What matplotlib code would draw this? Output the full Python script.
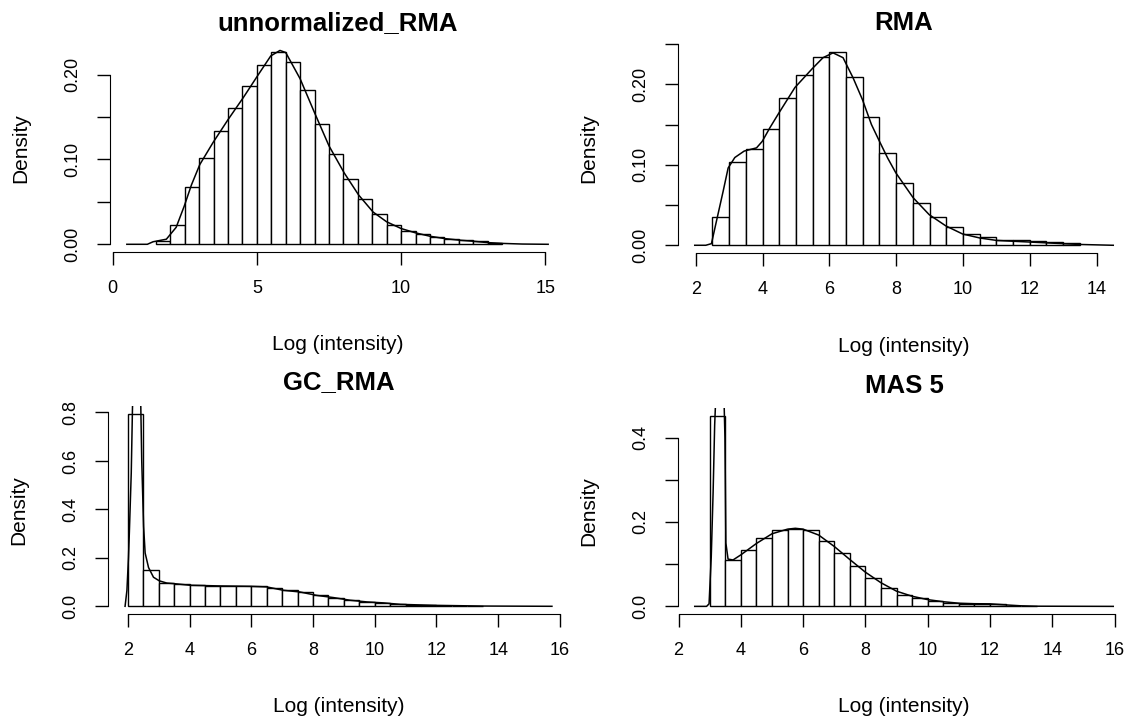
import matplotlib.pyplot as plt
import numpy as np

plt.rcParams['font.family'] = ['Liberation Sans', 'DejaVu Sans']

W, H = 1128, 722

titles = ['unnormalized_RMA', 'RMA', 'GC_RMA', 'MAS 5']
bin_width = 0.5

# unnormalized_RMA : histogram densities (bins of 0.5 from 1.5) + density curve
unnorm_start = 1.5
unnorm_bars = [0.0036, 0.023, 0.067, 0.102, 0.133, 0.161, 0.186, 0.211, 0.227, 0.215,
               0.182, 0.142, 0.107, 0.077, 0.053, 0.036, 0.0226, 0.016, 0.0127, 0.0087,
               0.006, 0.0048, 0.0036, 0.0016]
unnorm_dx = [0.49, 1.2, 1.4, 1.86, 2.2, 2.48, 2.73, 3.02, 3.48, 4.0, 4.53, 5.03, 5.48, 5.8,
             6.0, 6.5, 7.0, 7.5, 8.03, 8.53, 9.03, 9.5, 10.0, 10.5, 11.0, 11.52, 12.04,
             12.5, 13.0, 13.55, 14.2, 15.1]
unnorm_dy = [0, 0, 0.003, 0.006, 0.02, 0.045, 0.07, 0.094, 0.12, 0.147, 0.173, 0.199, 0.222,
             0.2285, 0.226, 0.195, 0.155, 0.116, 0.084, 0.058, 0.038, 0.0265, 0.0186,
             0.0135, 0.0095, 0.0067, 0.0048, 0.0036, 0.002, 0.001, 0.0003, 0]

# RMA
rma_start = 2.5
rma_bars = [0.0352, 0.1037, 0.119, 0.144, 0.1825, 0.2115, 0.2335, 0.240, 0.2086, 0.1597,
            0.114, 0.0776, 0.053, 0.0352, 0.0228, 0.0145, 0.0104, 0.0071, 0.0062, 0.0055,
            0.0045, 0.0025]
rma_dx = [1.97, 2.3, 2.47, 2.62, 2.82, 2.97, 3.17, 3.45, 3.82, 3.99, 4.22, 4.47, 4.97, 5.48,
          5.81, 6.11, 6.41, 6.71, 6.99, 7.26, 7.49, 7.75, 7.99, 8.51, 8.99, 9.49, 9.99,
          10.51, 11.01, 11.5, 12.5, 13.5, 14.5]
rma_dy = [0, 0, 0.002, 0.030, 0.067, 0.096, 0.109, 0.117, 0.121, 0.129, 0.146, 0.163, 0.196,
          0.219, 0.233, 0.239, 0.233, 0.208, 0.181, 0.150, 0.130, 0.108, 0.090, 0.059,
          0.038, 0.024, 0.014, 0.009, 0.006, 0.005, 0.003, 0.001, 0]

# GC_RMA
gc_start = 2.0
gc_bars = [0.795, 0.151, 0.098, 0.0935, 0.0866, 0.084, 0.084, 0.084, 0.0825, 0.077, 0.066,
           0.059, 0.045, 0.036, 0.025, 0.018, 0.014, 0.011, 0.0055, 0.004, 0.003, 0.002,
           0.001]
gc_dx = [1.91, 1.97, 2.02, 2.05, 2.11, 2.15, 2.22, 2.3, 2.38, 2.42, 2.45, 2.51, 2.56, 2.67,
         2.83, 3.02, 3.26, 3.5, 4.0, 5.0, 5.96, 6.5, 7.04, 7.58, 8.12, 8.66, 9.2, 9.75,
         10.29, 10.83, 11.9, 13.5, 15.74]
gc_dy = [0, 0.066, 0.20, 0.31, 0.55, 0.82, 1.05, 1.12, 1.0, 0.82, 0.60, 0.33, 0.22, 0.16,
         0.12, 0.105, 0.096, 0.0935, 0.087, 0.084, 0.0825, 0.080, 0.066, 0.059, 0.045,
         0.036, 0.025, 0.018, 0.014, 0.008, 0.004, 0.001, 0]

# MAS 5
mas_start = 3.0
mas_bars = [0.452, 0.109, 0.134, 0.162, 0.180, 0.184, 0.180, 0.156, 0.126, 0.095, 0.068,
            0.044, 0.028, 0.020, 0.0126, 0.0087, 0.0063, 0.0063, 0.0055, 0.0016, 0.001]
mas_dx = [2.52, 2.9, 2.98, 3.05, 3.11, 3.16, 3.22, 3.3, 3.38, 3.44, 3.49, 3.52, 3.59, 3.75,
          4.0, 4.5, 5.0, 5.5, 5.75, 6.0, 6.5, 7.0, 7.5, 8.0, 8.5, 9.0, 9.5, 10.0, 10.5,
          11.0, 11.5, 12.0, 12.5, 13.0, 13.5, 15.96]
mas_dy = [0, 0, 0.006, 0.117, 0.27, 0.43, 0.54, 0.60, 0.60, 0.55, 0.40, 0.15, 0.112, 0.110,
          0.122, 0.149, 0.172, 0.183, 0.185, 0.183, 0.169, 0.142, 0.111, 0.081, 0.056,
          0.036, 0.024, 0.016, 0.011, 0.0075, 0.0063, 0.006, 0.0035, 0.0013, 0.0004, 0]

xticks_top_left = [0, 5, 10, 15]
xticks_rma = [2, 4, 6, 8, 10, 12, 14]
xticks_bottom = [2, 4, 6, 8, 10, 12, 14, 16]
yticks_unnorm = [0, 0.05, 0.10, 0.15, 0.20]
ylabels_unnorm = ['0.00', '', '0.10', '', '0.20']
yticks_rma = [0, 0.05, 0.10, 0.15, 0.20, 0.25]
ylabels_rma = ['0.00', '', '0.10', '', '0.20', '']
yticks_gc = [0, 0.2, 0.4, 0.6, 0.8]
ylabels_gc = ['0.0', '0.2', '0.4', '0.6', '0.8']
yticks_mas = [0, 0.1, 0.2, 0.3, 0.4]
ylabels_mas = ['0.0', '', '0.2', '', '0.4']


def axes_at(fig, left, top, right, bottom):
    return fig.add_axes([left / W, 1 - bottom / H, (right - left) / W, (bottom - top) / H])


def draw_panel(ax, title, start, bars, dx, dy, xticks, yticks, ylabels, title_pad):
    edges = start + bin_width * np.arange(len(bars))
    ax.bar(edges, bars, width=bin_width, align='edge', color='white',
           edgecolor='black', linewidth=1.0)
    ax.plot(dx, dy, color='black', linewidth=1.1)

    # R style 4% padding on the ranges
    lo, hi = min(dx), max(dx)
    pad = 0.04 * (hi - lo)
    ax.set_xlim(lo - pad, hi + pad)
    top = max(bars)
    ax.set_ylim(-0.04 * top, 1.04 * top)

    for s in ['top', 'right']:
        ax.spines[s].set_visible(False)
    ax.spines['left'].set_bounds(yticks[0], yticks[-1])
    ax.spines['bottom'].set_bounds(xticks[0], xticks[-1])

    ax.set_xticks(xticks)
    ax.set_xticklabels([str(t) for t in xticks])
    ax.set_yticks(yticks)
    ax.set_yticklabels(ylabels, rotation=90, va='center')
    ax.tick_params(axis='x', length=9.5, width=1, pad=11, labelsize=13)
    ax.tick_params(axis='y', length=9.5, width=1, pad=11, labelsize=13)

    width_px = ax.get_position().width * W
    height_px = ax.get_position().height * H
    ax.set_xlabel('Log (intensity)', fontsize=15, va='center')
    ax.xaxis.set_label_coords(0.5, -93 / height_px)
    ax.set_ylabel('Density', fontsize=15, va='center')
    ax.yaxis.set_label_coords(-89 / width_px, 0.5)
    ax.set_title(title, fontsize=18.5, fontweight='bold', pad=title_pad)


fig = plt.figure(figsize=(W / 100, H / 100), dpi=100)

ax1 = axes_at(fig, 110, 44, 565, 252)
draw_panel(ax1, titles[0], unnorm_start, unnorm_bars, unnorm_dx, unnorm_dy,
           xticks_top_left, yticks_unnorm, ylabels_unnorm, 10)

ax2 = axes_at(fig, 678, 44, 1130, 253)
draw_panel(ax2, titles[1], rma_start, rma_bars, rma_dx, rma_dy,
           xticks_rma, yticks_rma, ylabels_rma, 10)

ax3 = axes_at(fig, 108, 406, 569, 614)
draw_panel(ax3, titles[2], gc_start, gc_bars, gc_dx, gc_dy,
           xticks_bottom, yticks_gc, ylabels_gc, 12)

ax4 = axes_at(fig, 678, 408, 1130, 614)
draw_panel(ax4, titles[3], mas_start, mas_bars, mas_dx, mas_dy,
           xticks_bottom, yticks_mas, ylabels_mas, 11)

fig.savefig('out.png', dpi=100)
